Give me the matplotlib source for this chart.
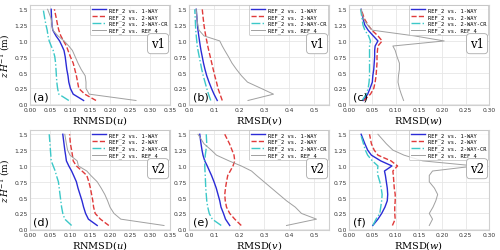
import numpy as np
import matplotlib.pyplot as plt

# height levels (z H^-1)
z = [0.06, 0.16, 0.25, 0.35, 0.45, 0.55, 0.65, 0.75, 0.85, 0.92, 1.0, 1.08, 1.17, 1.25, 1.35, 1.5]

labels = ['REF_2 vs. 1-WAY', 'REF_2 vs. 2-WAY', 'REF_2 vs. 2-WAY-CR', 'REF_2 vs. REF_4']

# (a) v1 u
a_1way = [0.134, 0.108, 0.101, 0.097, 0.095, 0.092, 0.090, 0.088, 0.085, 0.080, 0.074, 0.065, 0.057, 0.055, 0.054, 0.053]
a_2way = [0.165, 0.137, 0.122, 0.119, 0.116, 0.112, 0.108, 0.101, 0.095, 0.091, 0.084, 0.077, 0.072, 0.069, 0.066, 0.061]
a_cr   = [0.097, 0.072, 0.069, 0.067, 0.066, 0.065, 0.064, 0.062, 0.058, 0.053, 0.048, 0.045, 0.043, 0.040, 0.037, 0.033]
a_ref4 = [0.265, 0.148, 0.140, 0.140, 0.138, 0.128, 0.120, 0.113, 0.106, 0.097, 0.085, 0.070, 0.057, 0.055, 0.053, 0.044]

# (b) v1 v
b_1way = [0.113, 0.100, 0.090, 0.080, 0.071, 0.064, 0.058, 0.053, 0.048, 0.045, 0.042, 0.039, 0.036, 0.034, 0.032, 0.029]
b_2way = [0.133, 0.124, 0.116, 0.110, 0.103, 0.097, 0.091, 0.085, 0.079, 0.075, 0.071, 0.067, 0.063, 0.060, 0.057, 0.053]
b_cr   = [0.087, 0.078, 0.071, 0.064, 0.057, 0.051, 0.046, 0.041, 0.036, 0.033, 0.031, 0.029, 0.027, 0.026, 0.025, 0.023]
b_ref4 = [0.236, 0.338, 0.289, 0.234, 0.210, 0.190, 0.172, 0.158, 0.143, 0.133, 0.123, 0.060, 0.040, 0.035, 0.032, 0.029]

# (c) v1 w
c_1way = [0.030, 0.040, 0.045, 0.050, 0.051, 0.053, 0.054, 0.055, 0.055, 0.056, 0.062, 0.052, 0.041, 0.034, 0.030, 0.026]
c_2way = [0.032, 0.046, 0.053, 0.056, 0.058, 0.059, 0.060, 0.060, 0.061, 0.062, 0.071, 0.062, 0.049, 0.041, 0.033, 0.026]
c_cr   = [0.028, 0.037, 0.041, 0.043, 0.044, 0.044, 0.044, 0.044, 0.044, 0.044, 0.046, 0.042, 0.034, 0.030, 0.028, 0.025]
c_ref4 = [0.117, 0.112, 0.108, 0.105, 0.106, 0.108, 0.108, 0.103, 0.099, 0.094, 0.204, 0.140, 0.050, 0.040, 0.031, 0.026]

# (d) v2 u
d_1way = [0.168, 0.146, 0.139, 0.134, 0.130, 0.125, 0.120, 0.116, 0.109, 0.104, 0.097, 0.091, 0.089, 0.087, 0.085, 0.082]
d_2way = [0.197, 0.176, 0.163, 0.159, 0.157, 0.154, 0.151, 0.147, 0.142, 0.130, 0.116, 0.108, 0.106, 0.104, 0.101, 0.099]
d_cr   = [0.104, 0.087, 0.082, 0.079, 0.077, 0.075, 0.073, 0.071, 0.066, 0.063, 0.058, 0.053, 0.052, 0.051, 0.050, 0.048]
d_ref4 = [0.335, 0.227, 0.210, 0.200, 0.194, 0.187, 0.178, 0.168, 0.152, 0.142, 0.121, 0.118, 0.100, 0.094, 0.091, 0.087]

# (e) v2 v
e_1way = [0.163, 0.146, 0.138, 0.128, 0.123, 0.116, 0.109, 0.100, 0.090, 0.082, 0.073, 0.063, 0.056, 0.052, 0.048, 0.043]
e_2way = [0.209, 0.183, 0.163, 0.150, 0.145, 0.143, 0.146, 0.150, 0.155, 0.165, 0.176, 0.183, 0.180, 0.172, 0.162, 0.143]
e_cr   = [0.129, 0.093, 0.081, 0.075, 0.071, 0.069, 0.067, 0.066, 0.065, 0.064, 0.063, 0.064, 0.065, 0.068, 0.071, 0.069]
e_ref4 = [0.390, 0.510, 0.450, 0.425, 0.390, 0.360, 0.330, 0.300, 0.270, 0.250, 0.209, 0.160, 0.110, 0.089, 0.060, 0.036]

# (f) v2 w
f_1way = [0.051, 0.062, 0.070, 0.077, 0.082, 0.083, 0.082, 0.080, 0.078, 0.076, 0.092, 0.068, 0.048, 0.040, 0.034, 0.026]
f_2way = [0.093, 0.099, 0.098, 0.098, 0.099, 0.099, 0.097, 0.096, 0.095, 0.094, 0.104, 0.090, 0.062, 0.054, 0.048, 0.044]
f_cr   = [0.051, 0.058, 0.066, 0.068, 0.070, 0.071, 0.069, 0.066, 0.062, 0.061, 0.062, 0.050, 0.040, 0.035, 0.031, 0.025]
f_ref4 = [0.172, 0.179, 0.172, 0.180, 0.186, 0.190, 0.183, 0.172, 0.172, 0.179, 0.270, 0.158, 0.118, 0.094, 0.080, 0.062]

panels = [
    ('(a)', 'v1', r'RNMSD$(u)$', 0.35, 0.05, [a_1way, a_2way, a_cr, a_ref4]),
    ('(b)', 'v1', r'RMSD$(v)$', 0.56, 0.1, [b_1way, b_2way, b_cr, b_ref4]),
    ('(c)', 'v1', r'RMSD$(w)$', 0.30, 0.05, [c_1way, c_2way, c_cr, c_ref4]),
    ('(d)', 'v2', r'RNMSD$(u)$', 0.35, 0.05, [d_1way, d_2way, d_cr, d_ref4]),
    ('(e)', 'v2', r'RMSD$(v)$', 0.56, 0.1, [e_1way, e_2way, e_cr, e_ref4]),
    ('(f)', 'v2', r'RMSD$(w)$', 0.30, 0.05, [f_1way, f_2way, f_cr, f_ref4]),
]

colors = ['#2b2bd6', '#e03a3a', '#3cc8c8', '#a0a0a0']
styles = ['-', '--', '-.', '-']
widths = [1.0, 1.0, 1.0, 0.7]

plt.rcParams['mathtext.fontset'] = 'dejavuserif'

fig = plt.figure(figsize=(5.0, 2.51), dpi=100)
lefts = [0.06, 0.378, 0.698]
bottoms = [0.578, 0.08]
w, h = 0.28, 0.40

for i, (tag, ver, xlab, xmax, xstep, series) in enumerate(panels):
    row, col = divmod(i, 3)
    ax = fig.add_axes([lefts[col], bottoms[row], w, h])
    for s, c, ls, lw, lab in zip(series, colors, styles, widths, labels):
        ax.plot(s, z, color=c, linestyle=ls, linewidth=lw, label=lab)
    ax.set_xlim(0, xmax)
    ax.set_ylim(-0.01, 1.575)
    ax.set_xticks(np.arange(0, xmax + 1e-9, xstep))
    if xstep < 0.1:
        ax.xaxis.set_major_formatter(plt.FormatStrFormatter('%.2f'))
    else:
        ax.xaxis.set_major_formatter(plt.FormatStrFormatter('%.1f'))
    ax.set_yticks([0.0, 0.25, 0.5, 0.75, 1.0, 1.25, 1.5])
    ax.set_yticklabels(['0.0', '0.25', '0.5', '0.75', '1.0', '1.25', '1.5'])
    ax.tick_params(labelsize=4.3, length=0, pad=1.5, colors='#333333')
    ax.grid(True, color='#e6e6e6', linewidth=0.6)
    ax.set_axisbelow(True)
    for sp in ax.spines.values():
        sp.set_color('#d0d0d0')
        sp.set_linewidth(0.8)
    ax.set_xlabel(xlab, fontsize=7, family='DejaVu Serif', labelpad=0.5)
    if col == 0:
        ax.set_ylabel(r'$z\,H^{-1}$ (m)', fontsize=6.5, family='DejaVu Serif')
        ax.yaxis.set_label_coords(-0.125, 0.5)
    leg = ax.legend(loc='upper right', prop={'family': 'DejaVu Sans Mono', 'size': 3.9},
                    handlelength=2.6, handletextpad=0.6, borderpad=0.3, labelspacing=0.25,
                    frameon=True, fancybox=True, borderaxespad=0.15)
    leg.get_frame().set_edgecolor('#bbbbbb')
    leg.get_frame().set_linewidth(0.6)
    ax.text(0.965, 0.61, ver, transform=ax.transAxes, ha='right', va='center',
            fontsize=8.5, family='DejaVu Serif', zorder=10,
            bbox=dict(boxstyle='round,pad=0.3', fc='white', ec='#aaaaaa', lw=0.6))
    ax.text(0.025, 0.085, tag, transform=ax.transAxes, ha='left', va='center',
            fontsize=8, zorder=10)

fig.savefig('out.png', dpi=100)
